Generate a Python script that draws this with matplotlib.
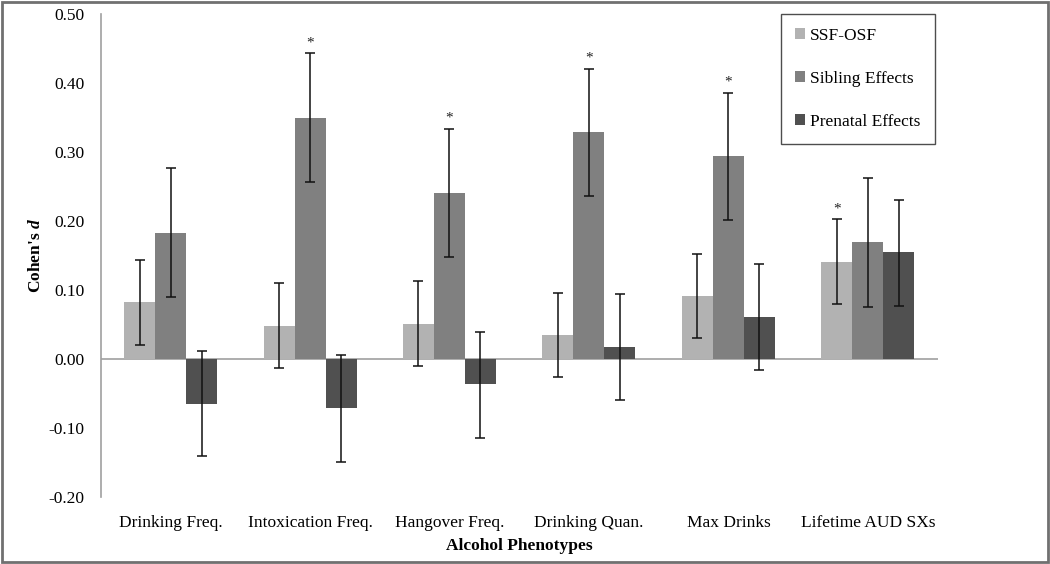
import numpy as np
import matplotlib.pyplot as plt
from matplotlib.patches import Rectangle

plt.rcParams['font.family'] = ['Liberation Serif', 'DejaVu Serif']
plt.rcParams['mathtext.fontset'] = 'custom'
plt.rcParams['mathtext.bfit'] = 'Liberation Serif:italic:bold'
plt.rcParams['mathtext.rm'] = 'Liberation Serif'

# Data
categories = ['Drinking Freq.', 'Intoxication Freq.', 'Hangover Freq.',
              'Drinking Quan.', 'Max Drinks', 'Lifetime AUD SXs']
series_names = ['SSF-OSF', 'Sibling Effects', 'Prenatal Effects']

ssf = [0.082, 0.048, 0.051, 0.034, 0.091, 0.141]
ssf_hi = [0.143, 0.110, 0.113, 0.096, 0.152, 0.203]
ssf_lo = [0.020, -0.013, -0.010, -0.026, 0.031, 0.080]

sib = [0.183, 0.349, 0.240, 0.329, 0.294, 0.169]
sib_hi = [0.277, 0.443, 0.334, 0.421, 0.386, 0.262]
sib_lo = [0.090, 0.257, 0.148, 0.236, 0.201, 0.076]

pre = [-0.065, -0.071, -0.037, 0.018, 0.061, 0.155]
pre_hi = [0.011, 0.005, 0.039, 0.094, 0.137, 0.231]
pre_lo = [-0.141, -0.149, -0.114, -0.059, -0.016, 0.077]

# staplar med asterisk: (serie-index, kategori-index)
stars = [(1, 1), (1, 2), (1, 3), (1, 4), (0, 5)]

colors = ['#b2b2b2', '#808080', '#505050']

fig = plt.figure(figsize=(10.5, 5.64), dpi=100)
ax = fig.add_axes([0.096, 0.119, 0.797, 0.856])

x = np.arange(len(categories))
w = 1 / 4.5
values = [ssf, sib, pre]
highs = [ssf_hi, sib_hi, pre_hi]
lows = [ssf_lo, sib_lo, pre_lo]

for i in range(3):
    xs = x + (i - 1) * w
    v = np.array(values[i])
    err = [v - np.array(lows[i]), np.array(highs[i]) - v]
    ax.bar(xs, v, width=w, color=colors[i], label=series_names[i], zorder=2)
    ax.errorbar(xs, v, yerr=err, fmt='none', ecolor='#111111',
                elinewidth=1.1, capsize=3.5, capthick=1.1, zorder=3)

for s, c in stars:
    ax.text(x[c] + (s - 1) * w, highs[s][c] + 0.015, '*', ha='center', va='center',
            fontsize=11, color='#222222')

ax.set_xlim(-0.5, len(categories) - 0.5)
ax.set_ylim(-0.20, 0.50)
ticks = np.arange(-0.2, 0.51, 0.1)
ax.set_yticks(ticks)
ax.set_yticklabels([f'{t:.2f}' for t in ticks], fontsize=12.5)
ax.set_xticks(x)
ax.set_xticklabels(categories, fontsize=12.5)
ax.tick_params(axis='x', length=0, pad=13)
ax.tick_params(axis='y', length=0, pad=12)

ax.axhline(0, color='#a0a0a0', lw=1.2, zorder=1)
for sp in ['top', 'right', 'bottom']:
    ax.spines[sp].set_visible(False)
ax.spines['left'].set_color('#a0a0a0')
ax.spines['left'].set_linewidth(1.2)

ax.set_xlabel('Alcohol Phenotypes', fontsize=12.5, fontweight='bold', labelpad=5)
ax.set_ylabel(r"Cohen's $\mathbfit{d}$", fontsize=12.5, fontweight='bold', labelpad=3)

leg = ax.legend(loc='upper right', bbox_to_anchor=(0.9964, 1.0), fontsize=12.5,
                frameon=True, fancybox=False, edgecolor='#222222',
                handlelength=0.6, handleheight=0.6, handletextpad=0.3,
                labelspacing=1.55, borderpad=0.8, borderaxespad=0.0)
leg.get_frame().set_linewidth(1.0)

# ram runt hela figuren
fig.patches.append(Rectangle((0.002, 0.003), 0.996, 0.994, transform=fig.transFigure,
                             fill=False, edgecolor='#707070', lw=2))

fig.savefig('out.png', dpi=100)
